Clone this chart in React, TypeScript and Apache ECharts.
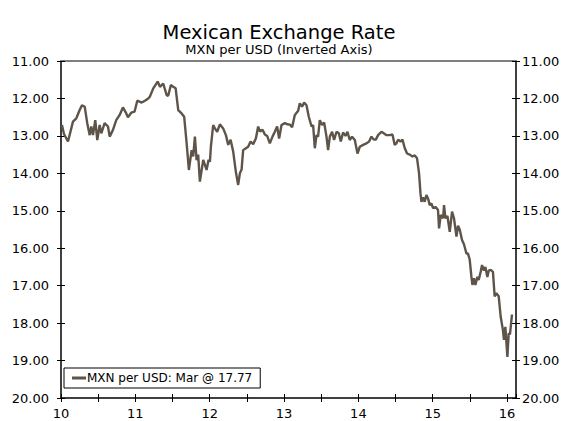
import React, { useEffect, useRef } from "react";
import * as echarts from "echarts";

// x positions in years (10 = 2010), values in MXN per USD
const years = [
  10.013, 10.04, 10.094, 10.161, 10.206, 10.251, 10.282, 10.319, 10.353, 10.386,
  10.407, 10.43, 10.461, 10.488, 10.52, 10.542, 10.587, 10.632, 10.655, 10.699,
  10.743, 10.789, 10.833, 10.878, 10.9, 10.945, 10.99, 11.026, 11.085, 11.129,
  11.173, 11.196, 11.241, 11.3, 11.331, 11.375, 11.421, 11.442, 11.478, 11.509,
  11.542, 11.577, 11.622, 11.657, 11.69, 11.72, 11.757, 11.778, 11.801, 11.824,
  11.845, 11.868, 11.913, 11.958, 11.985, 12.003, 12.016, 12.047, 12.07, 12.101,
  12.137, 12.181, 12.218, 12.249, 12.281, 12.316, 12.352, 12.383, 12.406, 12.429,
  12.45, 12.487, 12.517, 12.55, 12.585, 12.621, 12.652, 12.675, 12.711, 12.742,
  12.773, 12.809, 12.845, 12.876, 12.907, 12.934, 12.966, 13.011, 13.047, 13.078,
  13.109, 13.145, 13.19, 13.212, 13.243, 13.27, 13.302, 13.333, 13.37, 13.391,
  13.414, 13.437, 13.458, 13.481, 13.512, 13.539, 13.571, 13.593, 13.616, 13.647,
  13.673, 13.706, 13.737, 13.763, 13.794, 13.827, 13.853, 13.884, 13.915, 13.952,
  13.988, 14.019, 14.063, 14.109, 14.144, 14.176, 14.207, 14.234, 14.265, 14.31,
  14.341, 14.378, 14.422, 14.458, 14.489, 14.512, 14.534, 14.566, 14.593, 14.624,
  14.655, 14.691, 14.727, 14.758, 14.789, 14.816, 14.835, 14.848, 14.87, 14.892,
  14.915, 14.937, 14.96, 14.982, 15.004, 15.04, 15.071, 15.085, 15.108, 15.139,
  15.152, 15.171, 15.198, 15.229, 15.26, 15.286, 15.319, 15.34, 15.363, 15.394,
  15.421, 15.453, 15.474, 15.497, 15.52, 15.534, 15.555, 15.574, 15.601, 15.618,
  15.645, 15.663, 15.69, 15.708, 15.735, 15.753, 15.78, 15.81, 15.833, 15.856,
  15.887, 15.914, 15.944, 15.958, 15.977, 16.004, 16.022, 16.039, 16.066,
];

const mxnPerUsd = [
  12.71, 12.95, 13.15, 12.62, 12.53, 12.31, 12.18, 12.22, 12.66, 12.98,
  12.75, 12.98, 12.58, 13.11, 12.71, 12.93, 12.66, 12.75, 13.02, 12.84,
  12.58, 12.44, 12.24, 12.4, 12.5, 12.38, 12.35, 12.06, 12.11, 12.06,
  12.0, 11.95, 11.73, 11.55, 11.69, 11.6, 11.91, 11.93, 11.64, 11.69,
  11.73, 12.31, 12.4, 12.49, 13.2, 13.91, 13.38, 13.55, 13.02, 13.65,
  13.5, 14.22, 13.64, 13.91, 13.64, 13.69, 13.29, 12.71, 12.8, 12.89,
  12.69, 12.8, 12.98, 13.24, 13.1, 13.42, 13.96, 14.31, 14.0, 13.9,
  13.38, 13.33, 13.29, 13.15, 13.22, 13.07, 12.75, 12.88, 12.84, 12.96,
  13.0, 13.2, 13.02, 12.89, 12.75, 13.07, 12.71, 12.66, 12.69, 12.7,
  12.77, 12.44, 12.33, 12.13, 12.22, 12.11, 12.18, 12.49, 12.75, 12.71,
  13.33, 12.98, 13.02, 12.58, 12.71, 12.64, 13.02, 13.38, 13.02, 12.89,
  13.11, 12.89, 12.93, 13.15, 12.91, 13.0, 12.89, 13.11, 13.02, 13.11,
  13.47, 13.29, 13.24, 13.2, 13.15, 13.02, 13.1, 13.1, 12.98, 12.89,
  12.93, 12.98, 12.98, 12.96, 13.24, 13.2, 13.1, 13.15, 13.1, 13.33,
  13.47, 13.5, 13.55, 13.52, 13.6, 14.0, 14.53, 14.76, 14.64, 14.76,
  14.58, 14.67, 14.85, 14.8, 14.93, 14.9, 14.98, 15.47, 15.11, 15.2,
  14.85, 15.2, 15.14, 15.56, 15.02, 15.2, 15.69, 15.4, 15.5, 15.78,
  15.9, 16.14, 16.14, 16.3, 16.76, 16.98, 16.8, 16.98, 16.76, 16.85,
  16.63, 16.45, 16.6, 16.5, 16.77, 16.6, 16.58, 16.63, 17.29, 17.2,
  17.28, 17.83, 18.18, 18.45, 18.1, 18.9, 18.27, 18.3, 17.77,
];

const xMin = 10;
const xMax = 16.12;
const yMin = 11;
const yMax = 20;
const seriesLabel = "MXN per USD";
const lastMonth = "Mar";
const titleText = "Mexican Exchange Rate";
const subtitleText = "MXN per USD (Inverted Axis)";

const FONT = "DejaVu Sans";

export default function App() {
  const ref = useRef<HTMLDivElement>(null);
  useEffect(() => {
    const chart = echarts.init(ref.current!, null, { renderer: "svg" });
    const last = mxnPerUsd[mxnPerUsd.length - 1];
    const name = `${seriesLabel}: ${lastMonth} @ ${last.toFixed(2)}`;
    const yBase = {
      type: "value",
      min: yMin,
      max: yMax,
      interval: 1,
      inverse: true,
      splitLine: { show: false },
    };
    const xBase = {
      type: "value",
      min: xMin,
      max: xMax,
      interval: 0.5,
      splitLine: { show: false },
    };
    chart.setOption({
      animation: false,
      backgroundColor: "#ffffff",
      title: {
        text: titleText,
        subtext: subtitleText,
        left: 279,
        textAlign: "center",
        top: 22,
        itemGap: 1,
        padding: 0,
        textStyle: { fontFamily: FONT, fontSize: 19.5, fontWeight: "normal", color: "#000" },
        subtextStyle: { fontFamily: FONT, fontSize: 13, color: "#000" },
      },
      legend: {
        left: 64,
        top: 368,
        orient: "horizontal",
        padding: [4, 8, 4, 8],
        borderColor: "#000",
        borderWidth: 1,
        borderRadius: 0,
        icon: "rect",
        itemWidth: 14,
        itemHeight: 3,
        textStyle: { fontFamily: FONT, fontSize: 12, color: "#000", padding: [0, 0, 0, -4] },
        data: [name],
      },
      grid: { left: 61, right: 49, top: 61, bottom: 23, containLabel: false },
      xAxis: [
        {
          ...xBase,
          position: "bottom",
          axisLine: { show: true, onZero: false, lineStyle: { color: "#000", width: 1.5 } },
          axisTick: { show: true, inside: false, length: 4, lineStyle: { color: "#000" } },
          axisLabel: {
            show: true,
            margin: 9,
            fontFamily: FONT,
            fontSize: 13,
            color: "#000",
            showMaxLabel: false,
            formatter: (v: number) =>
              Math.abs(v - Math.round(v)) < 1e-6 ? String(Math.round(v)) : "",
          },
        },
        {
          ...xBase,
          position: "bottom",
          axisLine: { show: false, onZero: false },
          axisTick: { show: true, inside: true, length: 4, lineStyle: { color: "#000" } },
          axisLabel: { show: false },
        },
        {
          ...xBase,
          position: "top",
          axisLine: { show: true, onZero: false, lineStyle: { color: "#7f7f7f", width: 2 } },
          axisTick: { show: false },
          axisLabel: { show: false },
        },
      ],
      yAxis: [
        {
          ...yBase,
          position: "left",
          axisLine: { show: true, onZero: false, lineStyle: { color: "#000", width: 1.5 } },
          axisTick: { show: true, inside: false, length: 4, lineStyle: { color: "#000" } },
          axisLabel: {
            show: true,
            margin: 12,
            fontFamily: FONT,
            fontSize: 13,
            color: "#000",
            formatter: (v: number) => v.toFixed(2),
          },
        },
        {
          ...yBase,
          position: "left",
          axisLine: { show: false, onZero: false },
          axisTick: { show: true, inside: true, length: 4, lineStyle: { color: "#000" } },
          axisLabel: { show: false },
        },
        {
          ...yBase,
          position: "right",
          axisLine: { show: true, onZero: false, lineStyle: { color: "#000", width: 1.5 } },
          axisTick: { show: true, inside: false, length: 4, lineStyle: { color: "#000" } },
          axisLabel: {
            show: true,
            margin: 6,
            fontFamily: FONT,
            fontSize: 13,
            color: "#000",
            formatter: (v: number) => v.toFixed(2),
          },
        },
        {
          ...yBase,
          position: "right",
          axisLine: { show: false, onZero: false },
          axisTick: { show: true, inside: true, length: 4, lineStyle: { color: "#000" } },
          axisLabel: { show: false },
        },
      ],
      series: [
        {
          name,
          type: "line",
          xAxisIndex: 0,
          yAxisIndex: 0,
          data: years.map((x, i) => [x, mxnPerUsd[i]]),
          showSymbol: false,
          symbol: "none",
          lineStyle: { color: "#5e5449", width: 2.4 },
          itemStyle: { color: "#5e5449" },
          emphasis: { disabled: true },
        },
      ],
    });
    return () => chart.dispose();
  }, []);
  return (
    <div
      ref={ref}
      style={{ position: "fixed", left: 0, top: 0, width: 565, height: 421 }}
    />
  );
}
